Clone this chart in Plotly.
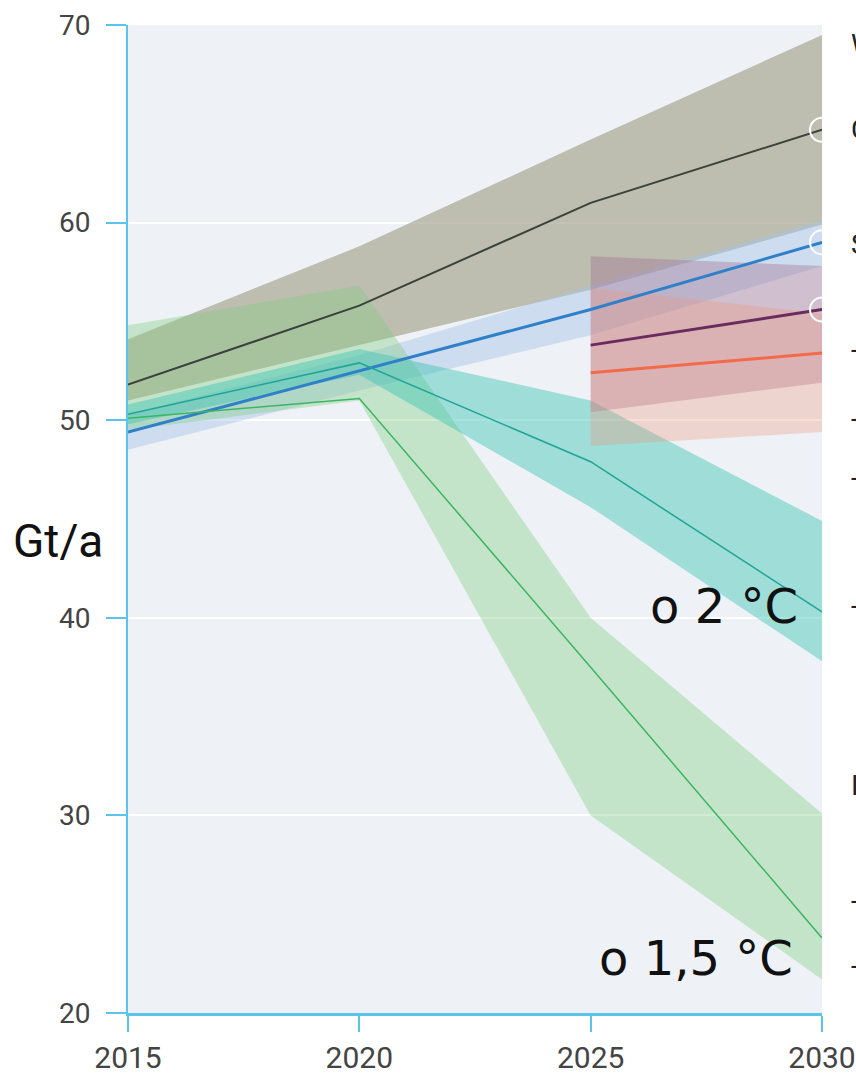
import plotly.graph_objects as go

years = [2015, 2020, 2025, 2030]
ndc_years = [2025, 2030]

# Current policies (black) and its range
current = [51.8, 55.8, 61.0, 64.7]
current_hi = [54.1, 58.8, 64.2, 69.5]
current_lo = [51.0, 53.8, 56.6, 59.9]

# Blue scenario
blue = [49.4, 52.5, 55.6, 59.0]
blue_hi = [50.3, 53.3, 56.8, 60.1]
blue_lo = [48.5, 51.5, 54.3, 57.8]

# 2 °C pathway
two = [50.3, 52.9, 47.9, 40.3]
two_hi = [50.8, 53.6, 51.0, 44.9]
two_lo = [49.8, 52.3, 45.6, 37.8]

# 1.5 °C pathway
onefive = [50.1, 51.1, 37.5, 23.8]
onefive_hi = [54.8, 56.8, 40.0, 30.1]
onefive_lo = [49.5, 51.0, 30.0, 21.7]

# NDC scenarios (2025-2030)
purple = [53.8, 55.6]
purple_hi = [58.3, 57.8]
purple_lo = [50.4, 51.9]
orange = [52.4, 53.4]
orange_hi = [56.7, 55.4]
orange_lo = [48.7, 49.4]

yticks = [20, 30, 40, 50, 60, 70]
xticks = [2015, 2020, 2025, 2030]

fig = go.Figure()


def band(x, hi, lo, color):
    fig.add_trace(go.Scatter(
        x=list(x) + list(x)[::-1], y=list(hi) + list(lo)[::-1],
        fill="toself", fillcolor=color, line=dict(width=0),
        mode="lines", hoverinfo="skip", showlegend=False))


band(years, current_hi, current_lo, "rgba(165,163,143,0.68)")
band(years, blue_hi, blue_lo, "rgba(165,195,230,0.45)")
band(years, onefive_hi, onefive_lo, "rgba(130,205,130,0.38)")
band(years, two_hi, two_lo, "rgba(60,195,180,0.45)")
band(ndc_years, purple_hi, purple_lo, "rgba(160,110,145,0.38)")
band(ndc_years, orange_hi, orange_lo, "rgba(240,150,125,0.32)")


def line(x, y, color, width, marker=False):
    fig.add_trace(go.Scatter(
        x=x, y=y, mode="lines", line=dict(color=color, width=width),
        showlegend=False, hoverinfo="skip"))
    if marker:
        fig.add_trace(go.Scatter(
            x=[x[-1]], y=[y[-1]], mode="markers",
            marker=dict(size=24, color="rgba(0,0,0,0)",
                        line=dict(color="white", width=2)),
            showlegend=False, hoverinfo="skip"))


line(years, current, "#3b423c", 2, True)
line(years, blue, "#2f80c8", 3, True)
line(years, two, "#1fa597", 1.5)
line(years, onefive, "#3cb564", 1.5)
line(ndc_years, purple, "#6a2c5e", 3, True)
line(ndc_years, orange, "#f26a48", 3)

axis_col = "#5bc3ec"

fig.update_layout(
    width=856, height=1073,
    margin=dict(l=128, r=34, t=25, b=60, autoexpand=False),
    paper_bgcolor="white", plot_bgcolor="#eef2f6",
    font=dict(family="Roboto", color="#444"),
    xaxis=dict(range=[2015, 2030], tickvals=xticks, showgrid=False,
               automargin=False,
               zeroline=False, showline=True, linecolor=axis_col, linewidth=3,
               ticks="outside", ticklen=16, tickwidth=2, tickcolor=axis_col,
               tickfont=dict(size=30, family="Roboto", color="#444")),
    yaxis=dict(range=[20, 70], tickvals=yticks, showgrid=True,
               automargin=False, ticklabelstandoff=10,
               gridcolor="white", gridwidth=2, zeroline=False,
               showline=True, linecolor=axis_col, linewidth=2,
               ticks="outside", ticklen=20, tickwidth=2, tickcolor=axis_col,
               tickfont=dict(size=28, family="Roboto", color="#444")),
)

fig.add_annotation(text="Gt/a", xref="paper", yref="y", x=-0.168, y=43.9,
                   xanchor="left", yanchor="middle", showarrow=False,
                   font=dict(size=46, family="Roboto", color="#111"))
fig.add_annotation(text="o 2 °C", xref="paper", yref="y", x=0.968, y=40.6,
                   xanchor="right", yanchor="middle", showarrow=False,
                   font=dict(size=48, family="DejaVu Sans", color="#111"))
fig.add_annotation(text="o 1,5 °C", xref="paper", yref="y", x=0.961, y=22.8,
                   xanchor="right", yanchor="middle", showarrow=False,
                   font=dict(size=48, family="DejaVu Sans", color="#111"))

# cut-off side labels at the right edge
side_labels = ["W", "C", "S", "-", "-", "-", "-", "I", "-", "-"]
side_y = [69.0, 64.7, 58.9, 53.6, 50.1, 47.1, 40.6, 31.5, 25.7, 22.4]
for t, yy in zip(side_labels, side_y):
    fig.add_annotation(text=t, xref="paper", yref="y", x=1.039, y=yy,
                       xanchor="left", yanchor="middle", showarrow=False,
                       font=dict(size=28, family="Roboto", color="#222"))

fig.write_html("out.html", config={"displayModeBar": False},
               post_script="document.body.style.margin='0';")
